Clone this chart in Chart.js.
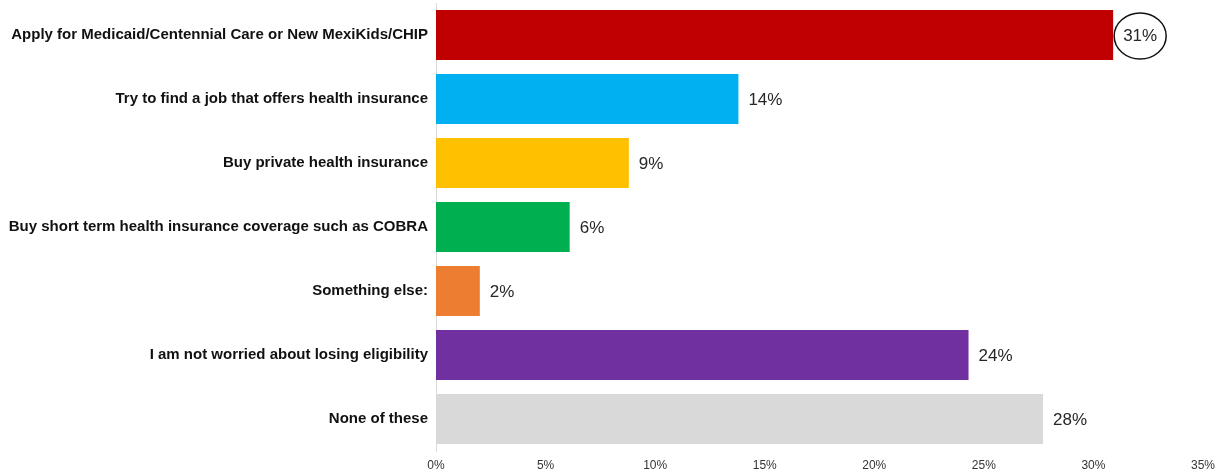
<!DOCTYPE html>
<html>
<head>
<meta charset="utf-8">
<script src="https://cdn.jsdelivr.net/npm/chart.js@4"></script>
<style>
  html, body { margin: 0; padding: 0; background: #fff; }
  #wrap { width: 1225px; height: 474px; }
</style>
</head>
<body>
<div id="wrap"><canvas id="chart"></canvas></div>
<script>
const categories = [
  "Apply for Medicaid/Centennial Care or New MexiKids/CHIP",
  "Try to find a job that offers health insurance",
  "Buy private health insurance",
  "Buy short term health insurance coverage such as COBRA",
  "Something else:",
  "I am not worried about losing eligibility",
  "None of these"
];
const shares = [30.9, 13.8, 8.8, 6.1, 2.0, 24.3, 27.7];
const barColors = ["#C00000", "#00B0F0", "#FFC000", "#00B050", "#ED7D31", "#7030A0", "#D9D9D9"];
const xTicks = [0, 5, 10, 15, 20, 25, 30, 35];
const circledIndex = 0;

const fontFamily = "'Liberation Sans', Arial, Helvetica, sans-serif";

// percent labels at the end of each bar, with a ring around the top one
const valueLabels = {
  id: "valueLabels",
  afterDatasetsDraw(chart) {
    const ctx = chart.ctx;
    const meta = chart.getDatasetMeta(0);
    ctx.save();
    ctx.font = "17px " + fontFamily;
    ctx.fillStyle = "#262626";
    ctx.textBaseline = "middle";
    ctx.textAlign = "left";
    meta.data.forEach((bar, i) => {
      const text = Math.round(shares[i]) + "%";
      const x = bar.x + 10;
      const y = bar.y + 1;
      ctx.fillText(text, x, y);
      if (i === circledIndex) {
        const w = ctx.measureText(text).width;
        ctx.beginPath();
        ctx.ellipse(x + w / 2, y, 26, 23, 0, 0, Math.PI * 2);
        ctx.lineWidth = 1.5;
        ctx.strokeStyle = "#111";
        ctx.stroke();
      }
    });
    ctx.restore();
  }
};

new Chart(document.getElementById("chart"), {
  type: "bar",
  data: {
    labels: categories,
    datasets: [{
      data: shares,
      backgroundColor: barColors,
      borderWidth: 0,
      categoryPercentage: 1,
      barPercentage: 0.78
    }]
  },
  options: {
    indexAxis: "y",
    responsive: true,
    maintainAspectRatio: false,
    animation: false,
    layout: { padding: { top: 3, right: 22, left: 0, bottom: 0 } },
    plugins: {
      legend: { display: false },
      tooltip: { enabled: false }
    },
    scales: {
      x: {
        min: 0,
        max: 35,
        afterBuildTicks(scale) {
          scale.ticks = xTicks.map(v => ({ value: v }));
        },
        afterFit(scale) {
          scale.height = 23;
          scale.paddingLeft = 0;
          scale.paddingRight = 0;
        },
        grid: { display: false, drawTicks: false },
        border: { display: false },
        ticks: {
          padding: 7,
          color: "#333",
          font: { family: fontFamily, size: 12 },
          callback: v => v + "%"
        }
      },
      y: {
        afterFit(scale) {
          scale.width = 436;
          scale.paddingTop = 0;
          scale.paddingBottom = 0;
        },
        grid: { display: false, drawTicks: false },
        border: { display: true, color: "#D9D9D9", width: 1 },
        ticks: {
          padding: 8,
          color: "#111",
          font: { family: fontFamily, size: 15, weight: "bold" }
        }
      }
    }
  },
  plugins: [valueLabels]
});
</script>
</body>
</html>
